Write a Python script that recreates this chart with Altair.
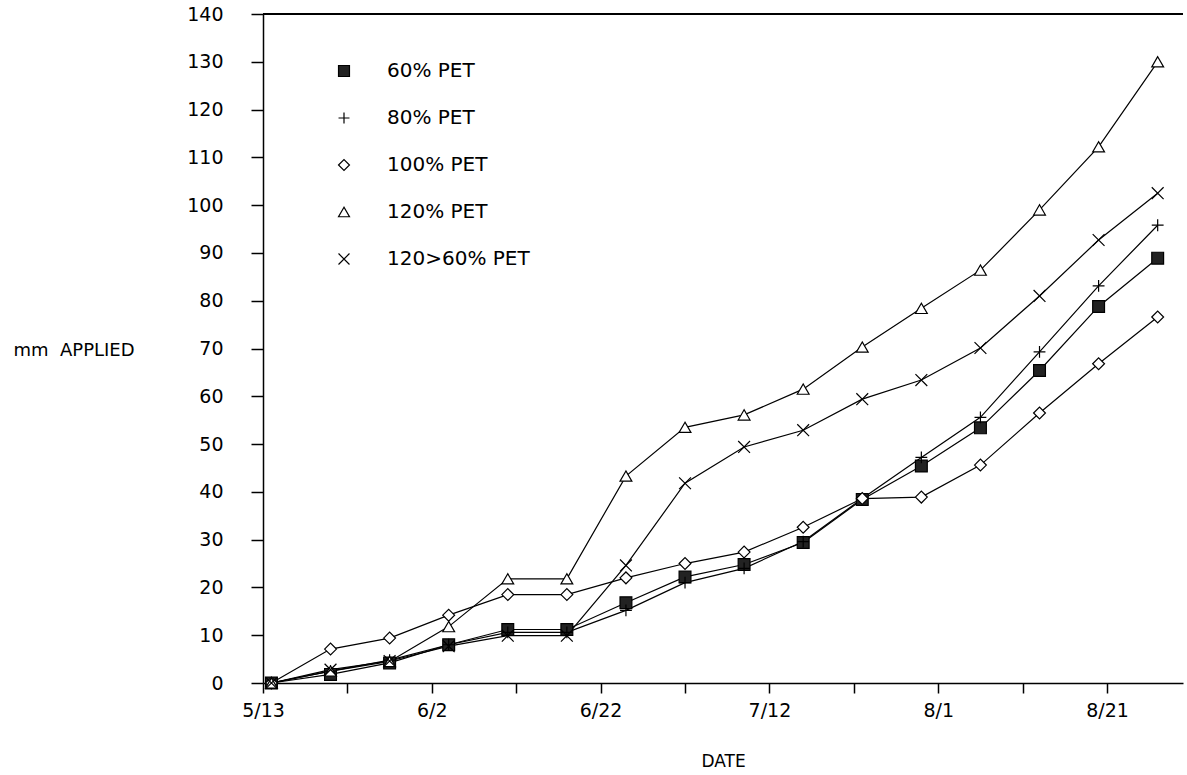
import altair as alt
import pandas as pd

# Sampling dates (1990 season) and cumulative irrigation applied, mm
dates = ["5/14", "5/21", "5/28", "6/4", "6/11", "6/18", "6/25", "7/2",
         "7/9", "7/16", "7/23", "7/30", "8/6", "8/13", "8/20", "8/27"]

series_names = ["60% PET", "80% PET", "100% PET", "120% PET", "120>60% PET"]

pet60 = [0, 1.8, 4.2, 8.0, 11.2, 11.2, 16.8, 22.2, 24.8, 29.4, 38.4, 45.4, 53.4, 65.4, 78.8, 88.9]
pet80 = [0, 2.5, 4.8, 8.0, 10.6, 10.6, 15.2, 21.0, 24.0, 29.6, 38.6, 47.2, 55.6, 69.3, 83.1, 95.8]
pet100 = [0, 7.1, 9.4, 14.2, 18.5, 18.5, 22.0, 25.0, 27.4, 32.6, 38.6, 38.9, 45.6, 56.5, 66.8, 76.6]
pet120 = [0, 2.5, 4.5, 11.8, 21.8, 21.8, 43.3, 53.5, 56.1, 61.5, 70.3, 78.4, 86.4, 99.0, 112.2, 130.0]
pet120_60 = [0, 2.8, 4.6, 7.7, 9.9, 9.9, 24.6, 41.8, 49.4, 52.9, 59.4, 63.4, 70.1, 81.0, 92.7, 102.5]

YEAR = 1990

# Marker styles per series: shape path and fill
shapes = ["square", "M-1,0L1,0M0,-1L0,1", "diamond", "triangle-up", "M-1,-1L1,1M-1,1L1,-1"]
fills = ["#222222", "white", "white", "white", "white"]
strokes = ["black"] * 5

iso = [f"{YEAR}-{int(d.split('/')[0]):02d}-{int(d.split('/')[1]):02d}" for d in dates]
rows = []
for name, vals in zip(series_names, [pet60, pet80, pet100, pet120, pet120_60]):
    for d, v in zip(iso, vals):
        rows.append({"date": d, "mm": v, "series": name})
df = pd.DataFrame(rows)

FONT = "DejaVu Sans"

x_start = alt.DateTime(year=YEAR, month=5, date=13, utc=True)
x_end = alt.DateTime(year=YEAR, month=8, date=30, utc=True)
tick_dates = [
    alt.DateTime(year=YEAR, month=m, date=d, utc=True)
    for m, d in [(5, 13), (5, 23), (6, 2), (6, 12), (6, 22), (7, 2),
                 (7, 12), (7, 22), (8, 1), (8, 11), (8, 21)]
]

x_enc = alt.X(
    "date:T",
    scale=alt.Scale(type="utc", domain=[x_start, x_end]),
    axis=alt.Axis(
        title="DATE",
        values=tick_dates,
        labelExpr=f"(round((datum.value - utc({YEAR},4,13)) / 86400000) % 20 == 0) ? utcFormat(datum.value, '%-m/%-d') : ''",
        tickSize=10,
        labelPadding=8,
        titlePadding=33,
        labelFontSize=19,
        titleFontSize=17,
        labelFlush=False,
        labelOverlap=False,
    ),
)

y_enc = alt.Y(
    "mm:Q",
    scale=alt.Scale(domain=[0, 140], nice=False),
    axis=alt.Axis(
        title="mm\u00a0\u00a0APPLIED",
        values=list(range(0, 141, 10)),
        tickSize=12,
        labelPadding=28,
        labelFontSize=19,
        titleFontSize=18,
        titleAngle=0,
        titleAlign="left",
        titleBaseline="middle",
        titleX=-250,
        titleY=336,
    ),
)

lines = alt.Chart(df).mark_line(color="black", strokeWidth=1.2).encode(
    x=x_enc, y=y_enc, detail="series:N"
)

points = alt.Chart(df).mark_point(
    filled=True, strokeWidth=1.2, size=140, opacity=1
).encode(
    x=x_enc,
    y=y_enc,
    shape=alt.Shape(
        "series:N",
        scale=alt.Scale(domain=series_names, range=shapes),
        legend=alt.Legend(title=None),
    ),
    fill=alt.Fill(
        "series:N",
        scale=alt.Scale(domain=series_names, range=fills),
        legend=alt.Legend(title=None),
    ),
    stroke=alt.Stroke(
        "series:N",
        scale=alt.Scale(domain=series_names, range=strokes),
        legend=alt.Legend(title=None),
    ),
)

top_frame = alt.Chart(df).mark_rule(color="black", strokeWidth=1.5).encode(
    y=alt.datum(140)
)

chart = (
    alt.layer(lines, points, top_frame)
    .properties(
        width=920,
        height=669,
        autosize=alt.AutoSizeParams(type="none"),
        padding={"left": 263, "top": 14, "right": 4, "bottom": 92},
        background="white",
    )
    .configure_view(stroke=None)
    .configure_axis(
        domainColor="black",
        domainWidth=1.5,
        tickColor="black",
        tickWidth=1.5,
        labelColor="black",
        titleColor="black",
        labelFont=FONT,
        titleFont=FONT,
        titleFontWeight="normal",
        grid=False,
    )
    .configure_legend(
        orient="none",
        legendX=71,
        legendY=47,
        padding=0,
        rowPadding=27,
        labelOffset=33,
        labelFont=FONT,
        labelFontSize=20,
        labelColor="black",
        symbolSize=120,
        symbolStrokeWidth=1.2,
        labelLimit=300,
    )
)

chart.save("out.html", embed_options={"renderer": "svg", "actions": False})
